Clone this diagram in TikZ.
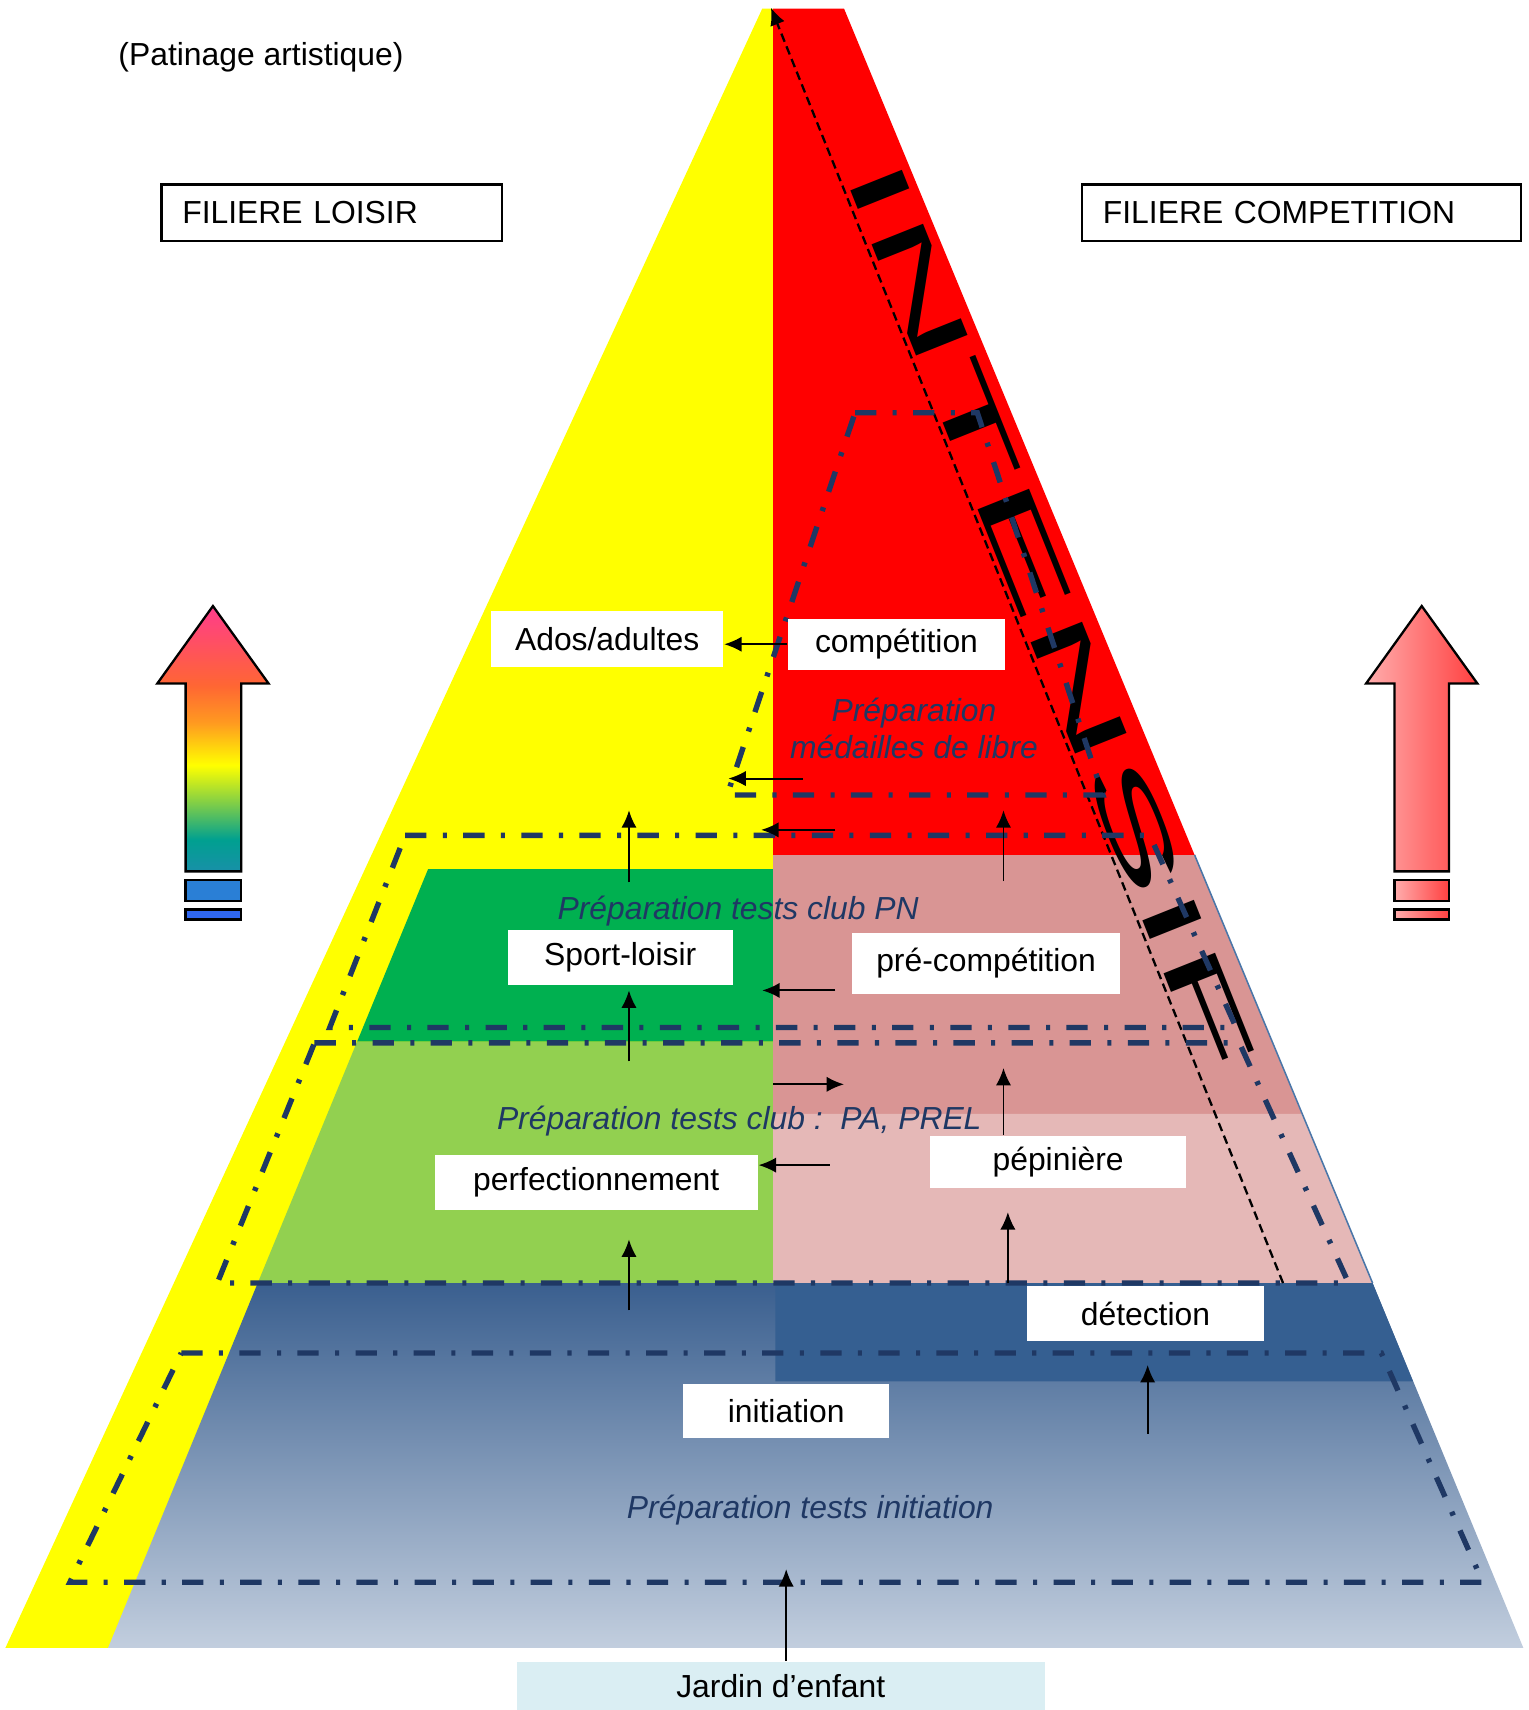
\documentclass[tikz,border=0pt]{standalone}
\usepackage{fontspec}
\setmainfont{Liberation Sans}
\usepackage{graphicx}
\usetikzlibrary{arrows.meta}

\definecolor{navy}{HTML}{1F3864}
\definecolor{pyryellow}{HTML}{FFFF00}
\definecolor{pyrred}{HTML}{FF0000}
\definecolor{darkgreen}{HTML}{00B050}
\definecolor{lightgreen}{HTML}{92D050}
\definecolor{darkpink}{HTML}{D99594}
\definecolor{lightpink}{HTML}{E5B8B7}
\definecolor{bluetop}{HTML}{3A5F8F}
\definecolor{bluebot}{HTML}{C2CEDE}
\definecolor{blueblock}{HTML}{355F91}
\definecolor{edgeblue}{HTML}{4A76A8}
\definecolor{jardin}{HTML}{DAEEF3}
\definecolor{rbA}{HTML}{1890A8}
\definecolor{rbB}{HTML}{00A090}
\definecolor{rbC}{HTML}{70C850}
\definecolor{rbD}{HTML}{FFFF00}
\definecolor{rbE}{HTML}{FF9A20}
\definecolor{rbF}{HTML}{FF6633}
\definecolor{rbG}{HTML}{FF3C8C}
\definecolor{barblueA}{HTML}{2A7FD6}
\definecolor{barblueB}{HTML}{2F66F0}
\definecolor{pinkL}{HTML}{FFADAD}
\definecolor{pinkR}{HTML}{FF4040}

\pgfdeclareverticalshading{rainbowup}{100bp}{color(0bp)=(rbA); color(25bp)=(rbA); color(31bp)=(rbB); color(37bp)=(rbC); color(45bp)=(rbD); color(53bp)=(rbE); color(60bp)=(rbF); color(75bp)=(rbG); color(100bp)=(rbG)}

\newcommand{\lbfont}{\fontsize{8.3pt}{9.7pt}\selectfont}

\tikzset{
    lbl/.style={fill=white, inner sep=0pt, font=\lbfont},
    filbox/.style={draw, line width=0.6pt, inner xsep=1.9mm, inner ysep=0pt, minimum height=5.2mm, align=left, font=\lbfont},
    prep/.style={text=navy, align=center, inner sep=0pt, font=\lbfont\itshape},
    frame/.style={navy, line width=1.4pt, dash pattern=on 1.95mm off 1.5mm on 0.37mm off 1.5mm},
    arr/.style={line width=0.5pt, -{Latex[length=1.6mm,width=1.4mm]}},
    intarr/.style={line width=0.6pt, dash pattern=on 0.8mm off 0.45mm, -{Latex[length=1.6mm,width=1.4mm]}},
    intword/.style={rotate=-68.2, inner sep=0pt, font=\fontsize{21pt}{24pt}\selectfont}
}

\begin{document}
\begin{tikzpicture}[x=0.1mm, y=-0.1mm]
    \useasboundingbox (0,0) rectangle (1400,1566);

    % Define the coloured parts of the pyramid
    \fill[pyryellow] (698,8) -- (708,8) -- (708,1509) -- (5,1509) -- cycle;
    \fill[pyrred] (708,8) -- (773,8) -- (1094,783) -- (708,783) -- cycle;
    \fill[darkgreen] (392,796) -- (708,796) -- (708,954) -- (327,954) -- cycle;
    \fill[lightgreen] (327,954) -- (708,954) -- (708,1175) -- (236,1175) -- cycle;
    \fill[darkpink] (708,783) -- (1094,783) -- (1192,1020) -- (708,1020) -- cycle;
    \fill[lightpink] (708,1020) -- (1192,1020) -- (1257,1175) -- (708,1175) -- cycle;
    \shade[top color=bluetop, bottom color=bluebot] (236,1175) -- (1257,1175) -- (1395,1509) -- (99,1509) -- cycle;
    \fill[blueblock] (710,1175) -- (1257,1175) -- (1294,1265) -- (710,1265) -- cycle;
    \draw[edgeblue, line width=0.4pt] (1094,783) -- (1257,1175);

    % Label the side
    \node[intword] (intensif) at (962,564) {\scalebox{2.66}[1]{INTENSIF}};

    \coordinate (apex) at (706,7);
    \coordinate (intbase) at (1175,1175);
    \draw[intarr] (intbase) -- (apex);

    % Draw the dash-dot frames
    \draw[frame] (783,378) -- (895,378) -- (1010,728) -- (666,728) -- cycle;
    \draw[frame] (371,765) -- (1053,765) -- (1132,941) -- (302,941) -- cycle;
    \draw[frame] (288,955) -- (1135,955) -- (1235,1175) -- (199,1175) -- cycle;
    \draw[frame] (166,1239) -- (1265,1239) -- (1358,1449) -- (64,1449) -- cycle;

    % Draw the two big arrows
    \path[draw, line width=0.6pt, shading=rainbowup] (195,555) -- (246,626) -- (221,626) -- (221,798) -- (170,798) -- (170,626) -- (144,626) -- cycle;
    \draw[line width=0.6pt, fill=barblueA] (170,806) rectangle (221,825);
    \draw[line width=0.6pt, fill=barblueB] (170,833) rectangle (221,842);
    \path[draw, line width=0.6pt, left color=pinkL, right color=pinkR] (1302,555) -- (1353,626) -- (1327,626) -- (1327,798) -- (1277,798) -- (1277,626) -- (1251,626) -- cycle;
    \draw[line width=0.6pt, left color=pinkL, right color=pinkR] (1277,806) rectangle (1327,825);
    \draw[line width=0.6pt, left color=pinkL, right color=pinkR] (1277,833) rectangle (1327,842);

    % Label the regions
    \node[font=\lbfont] (titre) at (239,52) {(Patinage artistique)};
    \node[filbox, text width=27.4mm] (loisir) at (304,195) {FILIERE LOISIR};
    \node[filbox, text width=36.4mm] (compet) at (1192,195) {FILIERE COMPETITION};

    \node[prep] (prepmed) at (837,667) {Préparation\\médailles de libre};
    \node[prep] (preppn) at (676,834) {Préparation tests club PN};
    \node[prep] (preppa) at (677,1027) {Préparation tests club :\ \ PA, PREL};
    \node[prep] (prepinit) at (742,1383) {Préparation tests initiation};

    \node[lbl, minimum width=21.3mm, minimum height=5.1mm] (ados) at (556,585) {Ados/adultes};
    \node[lbl, minimum width=19.9mm, minimum height=4.7mm] (comp) at (821,590) {compétition};
    \node[lbl, minimum width=20.6mm, minimum height=5.0mm] (sport) at (568,877) {Sport-loisir};
    \node[lbl, minimum width=24.6mm, minimum height=5.6mm] (precomp) at (903,882) {pré-compétition};
    \node[lbl, minimum width=29.6mm, minimum height=5.0mm] (perf) at (546,1083) {perfectionnement};
    \node[lbl, minimum width=23.5mm, minimum height=4.8mm] (pepin) at (969,1064) {pépinière};
    \node[lbl, minimum width=21.7mm, minimum height=5.0mm] (detect) at (1049,1203) {détection};
    \node[lbl, minimum width=18.9mm, minimum height=5.0mm] (init) at (720,1292) {initiation};
    \node[lbl, fill=jardin, minimum width=48.4mm, minimum height=4.4mm] (jardin) at (715,1544) {Jardin d’enfant};

    % Draw the arrows between the levels
    \draw[arr] (comp.west) -- (comp.west -| ados.east);
    \foreach \k/\xa/\ya/\xb/\yb in {2/735/713/667/713, 3/765/760/697/760, 4/576/808/576/742, 5/919/807/919/742, 6/765/907/698/907, 7/576/972/576/907, 8/708/993/773/993, 11/576/1200/576/1135, 12/923/1175/923/1110, 13/1051/1313/1051/1250}
    {
        \coordinate (from\k) at (\xa,\ya);
        \coordinate (to\k) at (\xb,\yb);
        \draw[arr] (from\k) -- (to\k);
    }
    \coordinate (to9) at (919,978);
    \draw[arr] (pepin.north -| to9) -- (to9);
    \coordinate (from10) at (760,1067);
    \draw[arr] (from10) -- (from10 -| perf.east);
    \coordinate (to14) at (720,1437);
    \draw[arr] (jardin.north -| to14) -- (to14);

\end{tikzpicture}
\end{document}
